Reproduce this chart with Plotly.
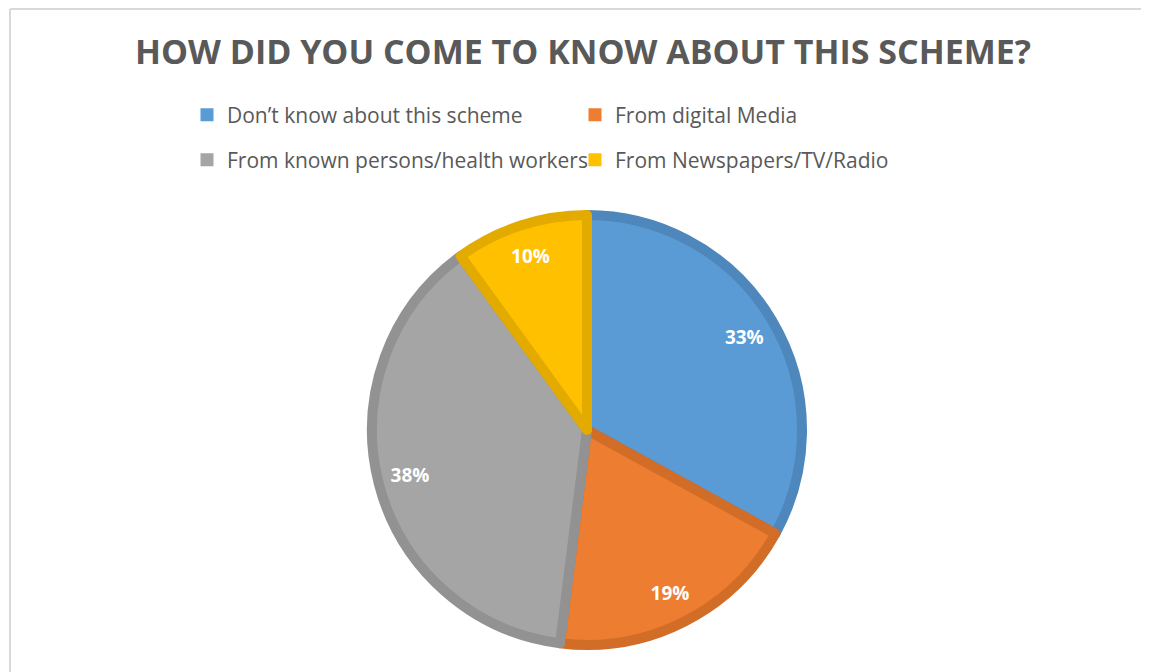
import plotly.graph_objects as go

categories = ["Don\u2019t know about this scheme", "From digital Media",
              "From known persons/health workers", "From Newspapers/TV/Radio"]
values = [33, 19, 38, 10]
fill_colors = ["#5B9BD5", "#ED7D31", "#A5A5A5", "#FFC000"]
edge_colors = ["#4E87BC", "#D26D28", "#929292", "#E3AA00"]
legend_rows = ["legend", "legend", "legend2", "legend2"]
title_text = "HOW DID YOU COME TO KNOW ABOUT THIS SCHEME?"

# page body has an 8px margin; positions below are in figure pixels
W, H = 1141, 664
cx, cy, R = 579, 422, 215

dom = dict(x=[(cx - R) / W, (cx + R) / W], y=[(H - cy - R) / H, (H - cy + R) / H])

fig = go.Figure()
fig.add_trace(go.Pie(
    labels=categories, values=values, sort=False, direction="clockwise",
    rotation=0,
    marker=dict(colors=fill_colors, line=dict(color=edge_colors, width=10)),
    textinfo="none", domain=dom, showlegend=False, hoverinfo="label+percent",
))
# transparent ring carrying the percentage labels further out, as in the reference
fig.add_trace(go.Pie(
    labels=categories, values=values, sort=False, direction="clockwise",
    rotation=0, hole=0.7,
    marker=dict(colors=["rgba(0,0,0,0)"] * len(values), line=dict(width=0)),
    textinfo="percent", texttemplate="%{percent:.0%}",
    textposition="inside", insidetextorientation="horizontal",
    textfont=dict(family="Open Sans", size=19, color="white", weight="bold"),
    domain=dom, showlegend=False, hoverinfo="skip",
))

for lab, col, lg in zip(categories, fill_colors, legend_rows):
    fig.add_trace(go.Scatter(
        x=[None], y=[None], mode="markers", name=lab, legend=lg,
        marker=dict(symbol="square", size=13, color=col),
        showlegend=True,
    ))

legend_common = dict(
    orientation="h", xanchor="left", yanchor="middle",
    font=dict(family="Open Sans", size=21, color="#595959"),
    entrywidth=343, entrywidthmode="pixels", bgcolor="rgba(0,0,0,0)",
    itemclick=False, itemdoubleclick=False,
)

fig.update_layout(
    width=W, height=H,
    margin=dict(l=0, r=0, t=0, b=0),
    paper_bgcolor="white", plot_bgcolor="white",
    xaxis=dict(visible=False), yaxis=dict(visible=False),
    title=dict(text=title_text, x=575 / W, xanchor="center", y=1 - 44 / H, yanchor="middle",
               font=dict(family="Open Sans", size=34, color="#595959", weight="bold")),
    legend=dict(x=179 / W, y=1 - 107 / H, **legend_common),
    legend2=dict(x=179 / W, y=1 - 152 / H, **legend_common),
    shapes=[
        dict(type="line", xref="paper", yref="paper", x0=2 / W, x1=1.0,
             y0=1 - 1 / H, y1=1 - 1 / H, line=dict(color="#D9D9D9", width=2)),
        dict(type="line", xref="paper", yref="paper", x0=2 / W, x1=2 / W,
             y0=0, y1=1 - 1 / H, line=dict(color="#D9D9D9", width=2)),
    ],
)

fig.write_html("out.html")
